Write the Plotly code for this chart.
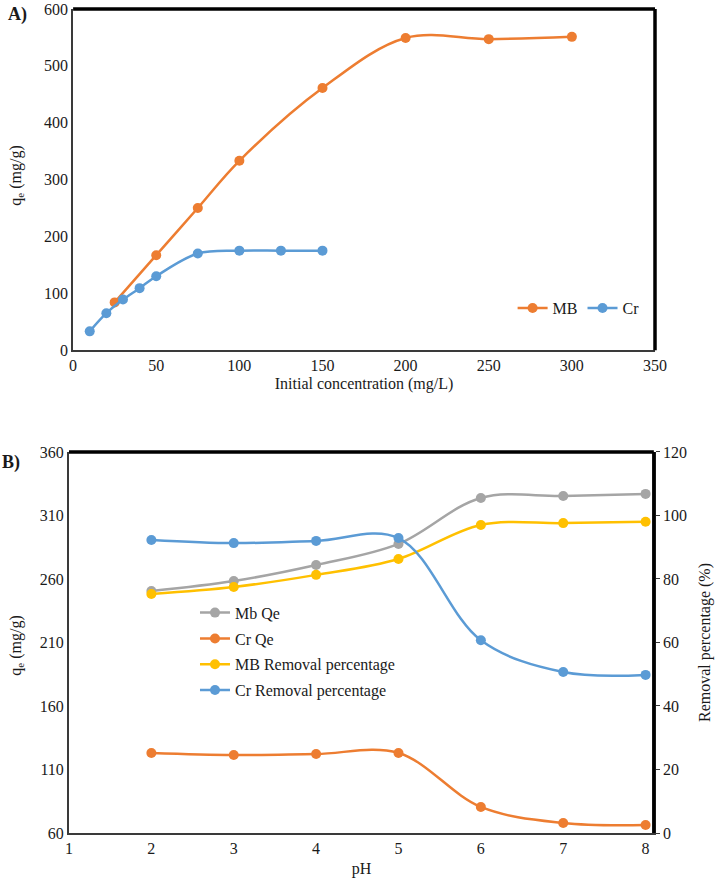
import plotly.graph_objects as go

# ---- panel A: adsorption capacity vs initial concentration
mb_conc = [25, 50, 75, 100, 150, 200, 250, 300]
mb_qe = [84, 167, 250, 333, 461, 549, 547, 551]
cr_conc = [10, 20, 30, 40, 50, 75, 100, 125, 150]
cr_qe = [33, 65, 89, 109, 130, 170, 175, 175, 175]

# ---- panel B: effect of pH
ph = [2, 3, 4, 5, 6, 7, 8]
mb_qe_ph = [250.6, 258.4, 271, 287.6, 323.8, 325.4, 327]
cr_qe_ph = [123, 121.4, 122.2, 123, 80.5, 67.9, 66.3]
mb_removal = [75.3, 77.5, 81.3, 86.3, 97, 97.6, 98]
cr_removal = [92.3, 91.3, 92, 92.9, 60.7, 50.7, 49.8]

ORANGE = "#ED7D31"
BLUE = "#5B9BD5"
GRAY = "#A5A5A5"
YELLOW = "#FFC000"
FONT = "'Liberation Serif', 'Times New Roman', 'DejaVu Serif', serif"
TXT = "#1a1a1a"

fig = go.Figure()

def add_line(x, y, name, color, xaxis, yaxis, legend, group):
    fig.add_trace(go.Scatter(
        x=x, y=y, name=name, mode="lines+markers",
        line=dict(color=color, width=2.5, shape="spline", smoothing=1),
        marker=dict(color=color, size=10),
        xaxis=xaxis, yaxis=yaxis, legend=legend, legendgroup=group,
    ))

add_line(mb_conc, mb_qe, "MB", ORANGE, "x", "y", "legend", "a1")
add_line(cr_conc, cr_qe, "Cr", BLUE, "x", "y", "legend", "a2")

add_line(ph, mb_qe_ph, "Mb Qe", GRAY, "x2", "y2", "legend2", "b1")
add_line(ph, cr_qe_ph, "Cr Qe", ORANGE, "x2", "y2", "legend2", "b2")
add_line(ph, mb_removal, "MB Removal percentage", YELLOW, "x2", "y3", "legend2", "b3")
add_line(ph, cr_removal, "Cr Removal percentage", BLUE, "x2", "y3", "legend2", "b4")

tickfont = dict(family=FONT, size=16, color=TXT)
titlefont = dict(family=FONT, size=16, color=TXT)
axline = dict(showline=True, linecolor="#3a3a3a", linewidth=2, showgrid=False,
              zeroline=False, tickfont=tickfont, automargin=False)

fig.update_layout(
    width=721, height=878,
    margin=dict(l=69, r=66, t=9, b=45),
    paper_bgcolor="white", plot_bgcolor="white",
    font=dict(family=FONT, size=16, color=TXT),
    showlegend=True,
    xaxis=dict(domain=[0.007, 1.0], range=[0, 350], dtick=50, anchor="y",
               title=dict(text="Initial concentration (mg/L)", font=titlefont, standoff=4),
               ticks="", **axline),
    yaxis=dict(domain=[0.586, 1.0], range=[0, 600], dtick=100, anchor="x",
               ticks="", **axline),
    xaxis2=dict(domain=[0.0, 0.998], range=[1, 8.1], dtick=1, anchor="y2",
                title=dict(text="pH", font=titlefont, standoff=7),
                ticks="", **axline),
    yaxis2=dict(domain=[0.0, 0.4624], range=[60, 360], tick0=60, dtick=50, anchor="x2",
                ticks="", **axline),
    yaxis3=dict(range=[0, 120], dtick=20, overlaying="y2", side="right", anchor="x2",
                title=dict(text="Removal percentage (%)", font=titlefont, standoff=13),
                ticks="outside", ticklen=4, tickcolor="#3a3a3a", **axline),
    legend=dict(orientation="h", x=0.757, y=0.637, xanchor="left", yanchor="middle",
                font=dict(family=FONT, size=16, color=TXT), bgcolor="rgba(0,0,0,0)",
                itemwidth=30, tracegroupgap=0),
    legend2=dict(orientation="v", x=0.215, y=0.22, xanchor="left", yanchor="middle",
                 font=dict(family=FONT, size=16, color=TXT), bgcolor="rgba(0,0,0,0)",
                 itemwidth=30, tracegroupgap=2),
)

# heavy black top/right edges of both frames
for xd, yd in [((0.007, 1.0), (0.586, 1.0)), ((0.0, 0.998), (0.0, 0.4624))]:
    fig.add_shape(type="line", xref="paper", yref="paper", x0=xd[0], x1=xd[1], y0=yd[1], y1=yd[1],
                  line=dict(color="black", width=3.5))
    fig.add_shape(type="line", xref="paper", yref="paper", x0=xd[1], x1=xd[1], y0=yd[0], y1=yd[1],
                  line=dict(color="black", width=3.5))

# left axis titles (placed as annotations to sit further left than standoff allows)
for ypos in [0.7985, 0.228]:
    fig.add_annotation(text="q<sub>e</sub> (mg/g)", xref="paper", yref="paper", x=-0.091, y=ypos,
                       xanchor="center", yanchor="middle", textangle=-90, showarrow=False,
                       font=titlefont)

fig.add_annotation(text="<b>A)</b>", xref="paper", yref="paper", x=-0.107, y=0.993,
                   xanchor="left", yanchor="middle", showarrow=False,
                   font=dict(family=FONT, size=18, color=TXT))
fig.add_annotation(text="<b>B)</b>", xref="paper", yref="paper", x=-0.118, y=0.45,
                   xanchor="left", yanchor="middle", showarrow=False,
                   font=dict(family=FONT, size=18, color=TXT))

# drop the browser's default body margin so the figure sits at the page corner
fig.write_html("out.html", config={"displayModeBar": False},
               post_script="document.body.style.margin='0px';")
